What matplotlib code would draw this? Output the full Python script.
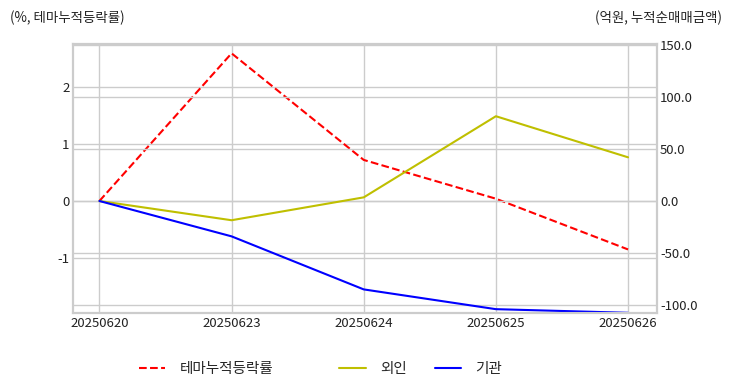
import numpy as np
import matplotlib
matplotlib.use("Agg")
import matplotlib.pyplot as plt

plt.style.use("seaborn-v0_8-whitegrid")
plt.rcParams['font.family'] = ['Noto Sans CJK KR', 'DejaVu Sans']
plt.rcParams['axes.unicode_minus'] = False

# 데이터
dates = ["20250620", "20250623", "20250624", "20250625", "20250626"]
theme_ret = [0.0, 2.59, 0.72, 0.04, -0.85]      # 테마누적등락률 (%)
foreign = [0.0, -18.5, 3.5, 81.5, 42.0]         # 외인 (억원)
inst = [0.0, -34.0, -85.0, -104.0, -107.5]      # 기관 (억원)

fig = plt.figure(figsize=(7.32, 3.92), dpi=100)
ax1 = fig.add_axes([0.0997, 0.2015, 0.798, 0.6863])
ax2 = ax1.twinx()

x = np.arange(len(dates))
l1, = ax1.plot(x, theme_ret, color="red", linestyle="--", linewidth=1.5, label="테마누적등락률")
l2, = ax2.plot(x, foreign, color="#bfbf00", linewidth=1.5, label="외인")
l3, = ax2.plot(x, inst, color="blue", linewidth=1.5, label="기관")

ax1.set_xlim(-0.2, 4.22)
ax1.set_ylim(-1.965, 2.754)
ax2.set_ylim(-107.7, 150.96)
ax1.set_xticks(x)
ax1.set_xticklabels(dates)
ax1.set_yticks([-1, 0, 1, 2])
ax2.set_yticks([-100, -50, 0, 50, 100, 150])
ax2.set_yticklabels([f"{v:.1f}" for v in [-100, -50, 0, 50, 100, 150]])

for ax in (ax1, ax2):
    ax.grid(True, color="#cccccc", linewidth=1.0)
    ax.tick_params(length=0, labelsize=9.5, colors="#222222", pad=4)
    for s in ax.spines.values():
        s.set_color("#cccccc")
        s.set_linewidth(1.5)
ax1.tick_params(axis="x", pad=3)
ax1.tick_params(axis="y", pad=2.5)
ax2.tick_params(axis="y", pad=2)

fig.text(0.013, 0.955, "(%, 테마누적등락률)", fontsize=9.7, color="#222222", va="center")
fig.text(0.987, 0.955, "(억원, 누적순매매금액)", fontsize=9.7, color="#222222", va="center", ha="right")

fig.legend(handles=[l1], loc="center", bbox_to_anchor=(0.282, 0.058),
           fontsize=10.5, frameon=False, handlelength=1.8, handletextpad=1.0)
fig.legend(handles=[l2, l3], loc="center", bbox_to_anchor=(0.575, 0.058), ncol=2,
           fontsize=10.5, frameon=False, handlelength=1.8, handletextpad=1.0,
           columnspacing=1.9)

fig.savefig("out.png", dpi=100)
